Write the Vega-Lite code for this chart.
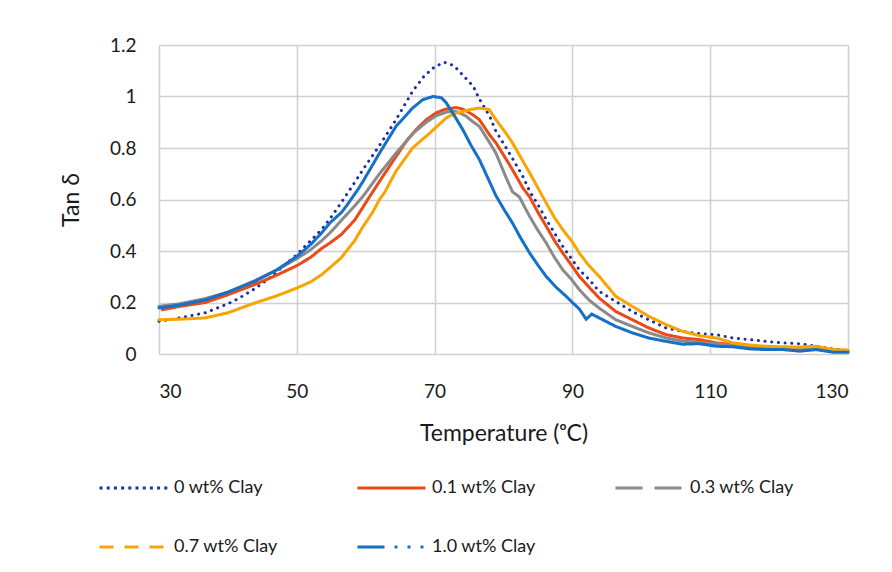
{
"$schema": "https://vega.github.io/schema/vega-lite/v6.json",
"width": 689, "height": 309,
"autosize": {"type": "none"},
"padding": {"left": 159, "top": 45, "right": 44, "bottom": 218},
"background": "white",
"config": {"font": "Lato", "view": {"stroke": null},
  "axis": {"labelFont": "Lato", "titleFont": "Lato", "labelColor": "#1a1a1a", "titleColor": "#1a1a1a", "labelFontSize": 19, "titleFontSize": 23, "titleFontWeight": "normal", "gridColor": "#D0D0D0", "gridWidth": 1.5, "ticks": false, "domain": false}},
"datasets": {"d": [
{"series":"0 wt% Clay","temp":30,"tan":0.127},{"series":"0 wt% Clay","temp":33,"tan":0.14},{"series":"0 wt% Clay","temp":36.7,"tan":0.16},{"series":"0 wt% Clay","temp":40,"tan":0.195},{"series":"0 wt% Clay","temp":41.5,"tan":0.215},{"series":"0 wt% Clay","temp":44,"tan":0.255},{"series":"0 wt% Clay","temp":46.3,"tan":0.3},{"series":"0 wt% Clay","temp":48,"tan":0.34},{"series":"0 wt% Clay","temp":50,"tan":0.386},{"series":"0 wt% Clay","temp":52,"tan":0.44},{"series":"0 wt% Clay","temp":53.6,"tan":0.483},{"series":"0 wt% Clay","temp":54.8,"tan":0.525},{"series":"0 wt% Clay","temp":56.5,"tan":0.59},{"series":"0 wt% Clay","temp":58,"tan":0.65},{"series":"0 wt% Clay","temp":59.6,"tan":0.716},{"series":"0 wt% Clay","temp":62,"tan":0.81},{"series":"0 wt% Clay","temp":64.4,"tan":0.91},{"series":"0 wt% Clay","temp":66.8,"tan":1.02},{"series":"0 wt% Clay","temp":68.5,"tan":1.08},{"series":"0 wt% Clay","temp":70,"tan":1.115},{"series":"0 wt% Clay","temp":71.4,"tan":1.133},{"series":"0 wt% Clay","temp":72.8,"tan":1.12},{"series":"0 wt% Clay","temp":74.2,"tan":1.08},{"series":"0 wt% Clay","temp":75.6,"tan":1.04},{"series":"0 wt% Clay","temp":76.5,"tan":0.99},{"series":"0 wt% Clay","temp":78,"tan":0.923},{"series":"0 wt% Clay","temp":78.9,"tan":0.865},{"series":"0 wt% Clay","temp":80.4,"tan":0.8},{"series":"0 wt% Clay","temp":81.4,"tan":0.755},{"series":"0 wt% Clay","temp":82.8,"tan":0.69},{"series":"0 wt% Clay","temp":83.8,"tan":0.632},{"series":"0 wt% Clay","temp":85,"tan":0.58},{"series":"0 wt% Clay","temp":86.2,"tan":0.522},{"series":"0 wt% Clay","temp":87.4,"tan":0.47},{"series":"0 wt% Clay","temp":88.6,"tan":0.418},{"series":"0 wt% Clay","temp":90,"tan":0.365},{"series":"0 wt% Clay","temp":91,"tan":0.327},{"series":"0 wt% Clay","temp":92.4,"tan":0.29},{"series":"0 wt% Clay","temp":93.9,"tan":0.243},{"series":"0 wt% Clay","temp":96.3,"tan":0.204},{"series":"0 wt% Clay","temp":98.7,"tan":0.165},{"series":"0 wt% Clay","temp":101.1,"tan":0.133},{"series":"0 wt% Clay","temp":103.6,"tan":0.101},{"series":"0 wt% Clay","temp":106,"tan":0.088},{"series":"0 wt% Clay","temp":108.4,"tan":0.079},{"series":"0 wt% Clay","temp":110.9,"tan":0.075},{"series":"0 wt% Clay","temp":113.3,"tan":0.062},{"series":"0 wt% Clay","temp":115.7,"tan":0.056},{"series":"0 wt% Clay","temp":118.1,"tan":0.049},{"series":"0 wt% Clay","temp":120.6,"tan":0.043},{"series":"0 wt% Clay","temp":123,"tan":0.04},{"series":"0 wt% Clay","temp":125.4,"tan":0.03},{"series":"0 wt% Clay","temp":127.8,"tan":0.02},{"series":"0 wt% Clay","temp":130,"tan":0.013},
{"series":"0.1 wt% Clay","temp":30.5,"tan":0.172},{"series":"0.1 wt% Clay","temp":33,"tan":0.185},{"series":"0.1 wt% Clay","temp":36.7,"tan":0.2},{"series":"0.1 wt% Clay","temp":40,"tan":0.23},{"series":"0.1 wt% Clay","temp":43.9,"tan":0.27},{"series":"0.1 wt% Clay","temp":47,"tan":0.305},{"series":"0.1 wt% Clay","temp":50,"tan":0.343},{"series":"0.1 wt% Clay","temp":52,"tan":0.375},{"series":"0.1 wt% Clay","temp":53.6,"tan":0.41},{"series":"0.1 wt% Clay","temp":54.8,"tan":0.431},{"series":"0.1 wt% Clay","temp":56.5,"tan":0.465},{"series":"0.1 wt% Clay","temp":58.4,"tan":0.52},{"series":"0.1 wt% Clay","temp":59.6,"tan":0.57},{"series":"0.1 wt% Clay","temp":60.3,"tan":0.6},{"series":"0.1 wt% Clay","temp":62,"tan":0.67},{"series":"0.1 wt% Clay","temp":64.4,"tan":0.767},{"series":"0.1 wt% Clay","temp":66,"tan":0.83},{"series":"0.1 wt% Clay","temp":67.3,"tan":0.871},{"series":"0.1 wt% Clay","temp":68.8,"tan":0.91},{"series":"0.1 wt% Clay","temp":70.2,"tan":0.936},{"series":"0.1 wt% Clay","temp":71.5,"tan":0.95},{"series":"0.1 wt% Clay","temp":73.1,"tan":0.957},{"series":"0.1 wt% Clay","temp":74.2,"tan":0.95},{"series":"0.1 wt% Clay","temp":75.5,"tan":0.93},{"series":"0.1 wt% Clay","temp":76.5,"tan":0.91},{"series":"0.1 wt% Clay","temp":78,"tan":0.85},{"series":"0.1 wt% Clay","temp":78.9,"tan":0.82},{"series":"0.1 wt% Clay","temp":80.3,"tan":0.76},{"series":"0.1 wt% Clay","temp":81.3,"tan":0.716},{"series":"0.1 wt% Clay","temp":82.8,"tan":0.645},{"series":"0.1 wt% Clay","temp":83.8,"tan":0.61},{"series":"0.1 wt% Clay","temp":85,"tan":0.55},{"series":"0.1 wt% Clay","temp":86.2,"tan":0.496},{"series":"0.1 wt% Clay","temp":87.4,"tan":0.44},{"series":"0.1 wt% Clay","temp":88.6,"tan":0.392},{"series":"0.1 wt% Clay","temp":90,"tan":0.34},{"series":"0.1 wt% Clay","temp":91,"tan":0.301},{"series":"0.1 wt% Clay","temp":92.4,"tan":0.26},{"series":"0.1 wt% Clay","temp":93.9,"tan":0.217},{"series":"0.1 wt% Clay","temp":96.3,"tan":0.165},{"series":"0.1 wt% Clay","temp":98.7,"tan":0.133},{"series":"0.1 wt% Clay","temp":101.1,"tan":0.101},{"series":"0.1 wt% Clay","temp":103.6,"tan":0.075},{"series":"0.1 wt% Clay","temp":106,"tan":0.062},{"series":"0.1 wt% Clay","temp":108.4,"tan":0.056},{"series":"0.1 wt% Clay","temp":110.9,"tan":0.043},{"series":"0.1 wt% Clay","temp":113.3,"tan":0.036},{"series":"0.1 wt% Clay","temp":115.7,"tan":0.03},{"series":"0.1 wt% Clay","temp":118.1,"tan":0.023},{"series":"0.1 wt% Clay","temp":120.6,"tan":0.022},{"series":"0.1 wt% Clay","temp":123,"tan":0.02},{"series":"0.1 wt% Clay","temp":125.4,"tan":0.023},{"series":"0.1 wt% Clay","temp":127.8,"tan":0.017},{"series":"0.1 wt% Clay","temp":130,"tan":0.013},
{"series":"0.3 wt% Clay","temp":30,"tan":0.185},{"series":"0.3 wt% Clay","temp":33,"tan":0.195},{"series":"0.3 wt% Clay","temp":36.7,"tan":0.215},{"series":"0.3 wt% Clay","temp":40,"tan":0.24},{"series":"0.3 wt% Clay","temp":43.9,"tan":0.285},{"series":"0.3 wt% Clay","temp":47,"tan":0.325},{"series":"0.3 wt% Clay","temp":50,"tan":0.37},{"series":"0.3 wt% Clay","temp":52,"tan":0.405},{"series":"0.3 wt% Clay","temp":53.6,"tan":0.44},{"series":"0.3 wt% Clay","temp":54.8,"tan":0.47},{"series":"0.3 wt% Clay","temp":56.5,"tan":0.52},{"series":"0.3 wt% Clay","temp":58.4,"tan":0.575},{"series":"0.3 wt% Clay","temp":59.6,"tan":0.612},{"series":"0.3 wt% Clay","temp":62,"tan":0.7},{"series":"0.3 wt% Clay","temp":64.4,"tan":0.78},{"series":"0.3 wt% Clay","temp":67,"tan":0.86},{"series":"0.3 wt% Clay","temp":68.8,"tan":0.9},{"series":"0.3 wt% Clay","temp":70.2,"tan":0.925},{"series":"0.3 wt% Clay","temp":71.8,"tan":0.94},{"series":"0.3 wt% Clay","temp":73.1,"tan":0.942},{"series":"0.3 wt% Clay","temp":74.5,"tan":0.925},{"series":"0.3 wt% Clay","temp":75.5,"tan":0.903},{"series":"0.3 wt% Clay","temp":76.5,"tan":0.884},{"series":"0.3 wt% Clay","temp":78,"tan":0.82},{"series":"0.3 wt% Clay","temp":78.9,"tan":0.78},{"series":"0.3 wt% Clay","temp":80.3,"tan":0.69},{"series":"0.3 wt% Clay","temp":81.3,"tan":0.63},{"series":"0.3 wt% Clay","temp":82.3,"tan":0.61},{"series":"0.3 wt% Clay","temp":83.8,"tan":0.534},{"series":"0.3 wt% Clay","temp":85,"tan":0.48},{"series":"0.3 wt% Clay","temp":86.2,"tan":0.431},{"series":"0.3 wt% Clay","temp":87.4,"tan":0.375},{"series":"0.3 wt% Clay","temp":88.6,"tan":0.327},{"series":"0.3 wt% Clay","temp":90,"tan":0.285},{"series":"0.3 wt% Clay","temp":91,"tan":0.25},{"series":"0.3 wt% Clay","temp":92.4,"tan":0.21},{"series":"0.3 wt% Clay","temp":93.9,"tan":0.178},{"series":"0.3 wt% Clay","temp":96.3,"tan":0.133},{"series":"0.3 wt% Clay","temp":98.7,"tan":0.107},{"series":"0.3 wt% Clay","temp":101.1,"tan":0.082},{"series":"0.3 wt% Clay","temp":103.6,"tan":0.062},{"series":"0.3 wt% Clay","temp":106,"tan":0.05},{"series":"0.3 wt% Clay","temp":108.4,"tan":0.045},{"series":"0.3 wt% Clay","temp":110.9,"tan":0.04},{"series":"0.3 wt% Clay","temp":113.3,"tan":0.033},{"series":"0.3 wt% Clay","temp":115.7,"tan":0.028},{"series":"0.3 wt% Clay","temp":118.1,"tan":0.024},{"series":"0.3 wt% Clay","temp":120.6,"tan":0.02},{"series":"0.3 wt% Clay","temp":123,"tan":0.018},{"series":"0.3 wt% Clay","temp":125.4,"tan":0.02},{"series":"0.3 wt% Clay","temp":127.8,"tan":0.012},{"series":"0.3 wt% Clay","temp":130,"tan":0.01},
{"series":"0.7 wt% Clay","temp":30,"tan":0.133},{"series":"0.7 wt% Clay","temp":33,"tan":0.135},{"series":"0.7 wt% Clay","temp":36.7,"tan":0.14},{"series":"0.7 wt% Clay","temp":40,"tan":0.16},{"series":"0.7 wt% Clay","temp":43.9,"tan":0.198},{"series":"0.7 wt% Clay","temp":47,"tan":0.225},{"series":"0.7 wt% Clay","temp":50,"tan":0.256},{"series":"0.7 wt% Clay","temp":52,"tan":0.28},{"series":"0.7 wt% Clay","temp":53.6,"tan":0.308},{"series":"0.7 wt% Clay","temp":54.8,"tan":0.335},{"series":"0.7 wt% Clay","temp":56.5,"tan":0.375},{"series":"0.7 wt% Clay","temp":57.2,"tan":0.4},{"series":"0.7 wt% Clay","temp":58.4,"tan":0.44},{"series":"0.7 wt% Clay","temp":59.5,"tan":0.49},{"series":"0.7 wt% Clay","temp":61,"tan":0.55},{"series":"0.7 wt% Clay","temp":62,"tan":0.6},{"series":"0.7 wt% Clay","temp":62.8,"tan":0.63},{"series":"0.7 wt% Clay","temp":64.4,"tan":0.71},{"series":"0.7 wt% Clay","temp":66.8,"tan":0.8},{"series":"0.7 wt% Clay","temp":69.3,"tan":0.858},{"series":"0.7 wt% Clay","temp":71.7,"tan":0.917},{"series":"0.7 wt% Clay","temp":73,"tan":0.935},{"series":"0.7 wt% Clay","temp":74.1,"tan":0.942},{"series":"0.7 wt% Clay","temp":75.3,"tan":0.95},{"series":"0.7 wt% Clay","temp":76.5,"tan":0.955},{"series":"0.7 wt% Clay","temp":77.9,"tan":0.95},{"series":"0.7 wt% Clay","temp":78.9,"tan":0.91},{"series":"0.7 wt% Clay","temp":80.3,"tan":0.86},{"series":"0.7 wt% Clay","temp":81.3,"tan":0.82},{"series":"0.7 wt% Clay","temp":82.8,"tan":0.75},{"series":"0.7 wt% Clay","temp":83.8,"tan":0.703},{"series":"0.7 wt% Clay","temp":85,"tan":0.645},{"series":"0.7 wt% Clay","temp":86.2,"tan":0.586},{"series":"0.7 wt% Clay","temp":87.4,"tan":0.53},{"series":"0.7 wt% Clay","temp":88.6,"tan":0.483},{"series":"0.7 wt% Clay","temp":90,"tan":0.435},{"series":"0.7 wt% Clay","temp":91,"tan":0.392},{"series":"0.7 wt% Clay","temp":92.2,"tan":0.35},{"series":"0.7 wt% Clay","temp":93.4,"tan":0.315},{"series":"0.7 wt% Clay","temp":93.9,"tan":0.301},{"series":"0.7 wt% Clay","temp":96.3,"tan":0.224},{"series":"0.7 wt% Clay","temp":98.7,"tan":0.185},{"series":"0.7 wt% Clay","temp":101.1,"tan":0.146},{"series":"0.7 wt% Clay","temp":103.6,"tan":0.114},{"series":"0.7 wt% Clay","temp":106,"tan":0.088},{"series":"0.7 wt% Clay","temp":108.4,"tan":0.071},{"series":"0.7 wt% Clay","temp":110.9,"tan":0.062},{"series":"0.7 wt% Clay","temp":113.3,"tan":0.043},{"series":"0.7 wt% Clay","temp":115.7,"tan":0.035},{"series":"0.7 wt% Clay","temp":118.1,"tan":0.03},{"series":"0.7 wt% Clay","temp":120.6,"tan":0.028},{"series":"0.7 wt% Clay","temp":123,"tan":0.027},{"series":"0.7 wt% Clay","temp":125.4,"tan":0.03},{"series":"0.7 wt% Clay","temp":127.8,"tan":0.017},{"series":"0.7 wt% Clay","temp":130,"tan":0.015},
{"series":"1.0 wt% Clay","temp":30,"tan":0.179},{"series":"1.0 wt% Clay","temp":33,"tan":0.19},{"series":"1.0 wt% Clay","temp":36.7,"tan":0.21},{"series":"1.0 wt% Clay","temp":40,"tan":0.24},{"series":"1.0 wt% Clay","temp":43.9,"tan":0.282},{"series":"1.0 wt% Clay","temp":47,"tan":0.325},{"series":"1.0 wt% Clay","temp":50,"tan":0.379},{"series":"1.0 wt% Clay","temp":52,"tan":0.425},{"series":"1.0 wt% Clay","temp":53.6,"tan":0.47},{"series":"1.0 wt% Clay","temp":54.8,"tan":0.509},{"series":"1.0 wt% Clay","temp":56.5,"tan":0.55},{"series":"1.0 wt% Clay","temp":57.2,"tan":0.575},{"series":"1.0 wt% Clay","temp":58.9,"tan":0.64},{"series":"1.0 wt% Clay","temp":59.6,"tan":0.67},{"series":"1.0 wt% Clay","temp":62,"tan":0.78},{"series":"1.0 wt% Clay","temp":64.4,"tan":0.884},{"series":"1.0 wt% Clay","temp":66.8,"tan":0.955},{"series":"1.0 wt% Clay","temp":68.3,"tan":0.988},{"series":"1.0 wt% Clay","temp":69.8,"tan":1.0},{"series":"1.0 wt% Clay","temp":71,"tan":0.995},{"series":"1.0 wt% Clay","temp":71.7,"tan":0.975},{"series":"1.0 wt% Clay","temp":73,"tan":0.92},{"series":"1.0 wt% Clay","temp":74.1,"tan":0.871},{"series":"1.0 wt% Clay","temp":75.3,"tan":0.81},{"series":"1.0 wt% Clay","temp":76.5,"tan":0.755},{"series":"1.0 wt% Clay","temp":77.7,"tan":0.685},{"series":"1.0 wt% Clay","temp":78.9,"tan":0.615},{"series":"1.0 wt% Clay","temp":80.1,"tan":0.56},{"series":"1.0 wt% Clay","temp":81.3,"tan":0.509},{"series":"1.0 wt% Clay","temp":82.5,"tan":0.45},{"series":"1.0 wt% Clay","temp":83.8,"tan":0.392},{"series":"1.0 wt% Clay","temp":85,"tan":0.345},{"series":"1.0 wt% Clay","temp":86.2,"tan":0.301},{"series":"1.0 wt% Clay","temp":87.6,"tan":0.26},{"series":"1.0 wt% Clay","temp":89.1,"tan":0.224},{"series":"1.0 wt% Clay","temp":90,"tan":0.2},{"series":"1.0 wt% Clay","temp":91,"tan":0.175},{"series":"1.0 wt% Clay","temp":92,"tan":0.135},{"series":"1.0 wt% Clay","temp":92.8,"tan":0.155},{"series":"1.0 wt% Clay","temp":93.9,"tan":0.14},{"series":"1.0 wt% Clay","temp":96.3,"tan":0.107},{"series":"1.0 wt% Clay","temp":98.7,"tan":0.082},{"series":"1.0 wt% Clay","temp":101.1,"tan":0.062},{"series":"1.0 wt% Clay","temp":103.6,"tan":0.049},{"series":"1.0 wt% Clay","temp":106,"tan":0.038},{"series":"1.0 wt% Clay","temp":108.4,"tan":0.04},{"series":"1.0 wt% Clay","temp":110.9,"tan":0.03},{"series":"1.0 wt% Clay","temp":113.3,"tan":0.028},{"series":"1.0 wt% Clay","temp":115.7,"tan":0.02},{"series":"1.0 wt% Clay","temp":118.1,"tan":0.017},{"series":"1.0 wt% Clay","temp":120.6,"tan":0.017},{"series":"1.0 wt% Clay","temp":123,"tan":0.011},{"series":"1.0 wt% Clay","temp":125.4,"tan":0.017},{"series":"1.0 wt% Clay","temp":127.8,"tan":0.007},{"series":"1.0 wt% Clay","temp":130,"tan":0.007}
]},
"data": {"name": "d"},
"mark": {"type": "line", "strokeWidth": 3, "strokeCap": "round"},
"encoding": {
 "x": {"field": "temp", "type": "quantitative", "scale": {"domain": [30, 130], "nice": false, "zero": false},
   "axis": {"values": [30, 50, 70, 90, 110, 130], "title": "Temperature (ᵒC)", "labelPadding": 28, "titlePadding": 21, "grid": true}},
 "y": {"field": "tan", "type": "quantitative", "scale": {"domain": [0, 1.2], "nice": false},
   "axis": {"values": [0, 0.2, 0.4, 0.6, 0.8, 1, 1.2], "format": "~g", "title": "Tan δ", "labelPadding": 23, "titlePadding": 26, "grid": true}},
 "color": {"field": "series", "type": "nominal",
   "scale": {"domain": ["0 wt% Clay", "0.1 wt% Clay", "0.3 wt% Clay", "0.7 wt% Clay", "1.0 wt% Clay"],
             "range": ["#1B2F9E", "#EB4A16", "#8A8A8A", "#F8A504", "#1470C8"]},
   "legend": {"orient": "none", "legendX": -61, "legendY": 434, "columns": 3, "direction": "horizontal", "title": null,
     "symbolType": "stroke", "symbolSize": 4624, "symbolStrokeWidth": 3, "clipHeight": 18,
     "labelFont": "Lato", "labelFontSize": 18, "labelFontWeight": "normal", "labelColor": "#1a1a1a", "labelLimit": 300,
     "columnPadding": 78, "rowPadding": 41, "labelOffset": 5, "symbolOffset": 0, "padding": 0,
     "encode": {"symbols": {"update": {
       "strokeDash": {"signal": "datum.value === '0 wt% Clay' ? [3, 4.2] : datum.value === '0.3 wt% Clay' ? [27, 12] : datum.value === '0.7 wt% Clay' ? [14, 11] : datum.value === '1.0 wt% Clay' ? [27, 10, 3, 10, 3, 10, 3, 10] : [1, 0]"},
       "strokeCap": {"value": "butt"}}}}}},
 "strokeDash": {"condition": {"test": "datum.series === '0 wt% Clay'", "value": [0.1, 6.6]}, "value": [1, 0]}
}
}
